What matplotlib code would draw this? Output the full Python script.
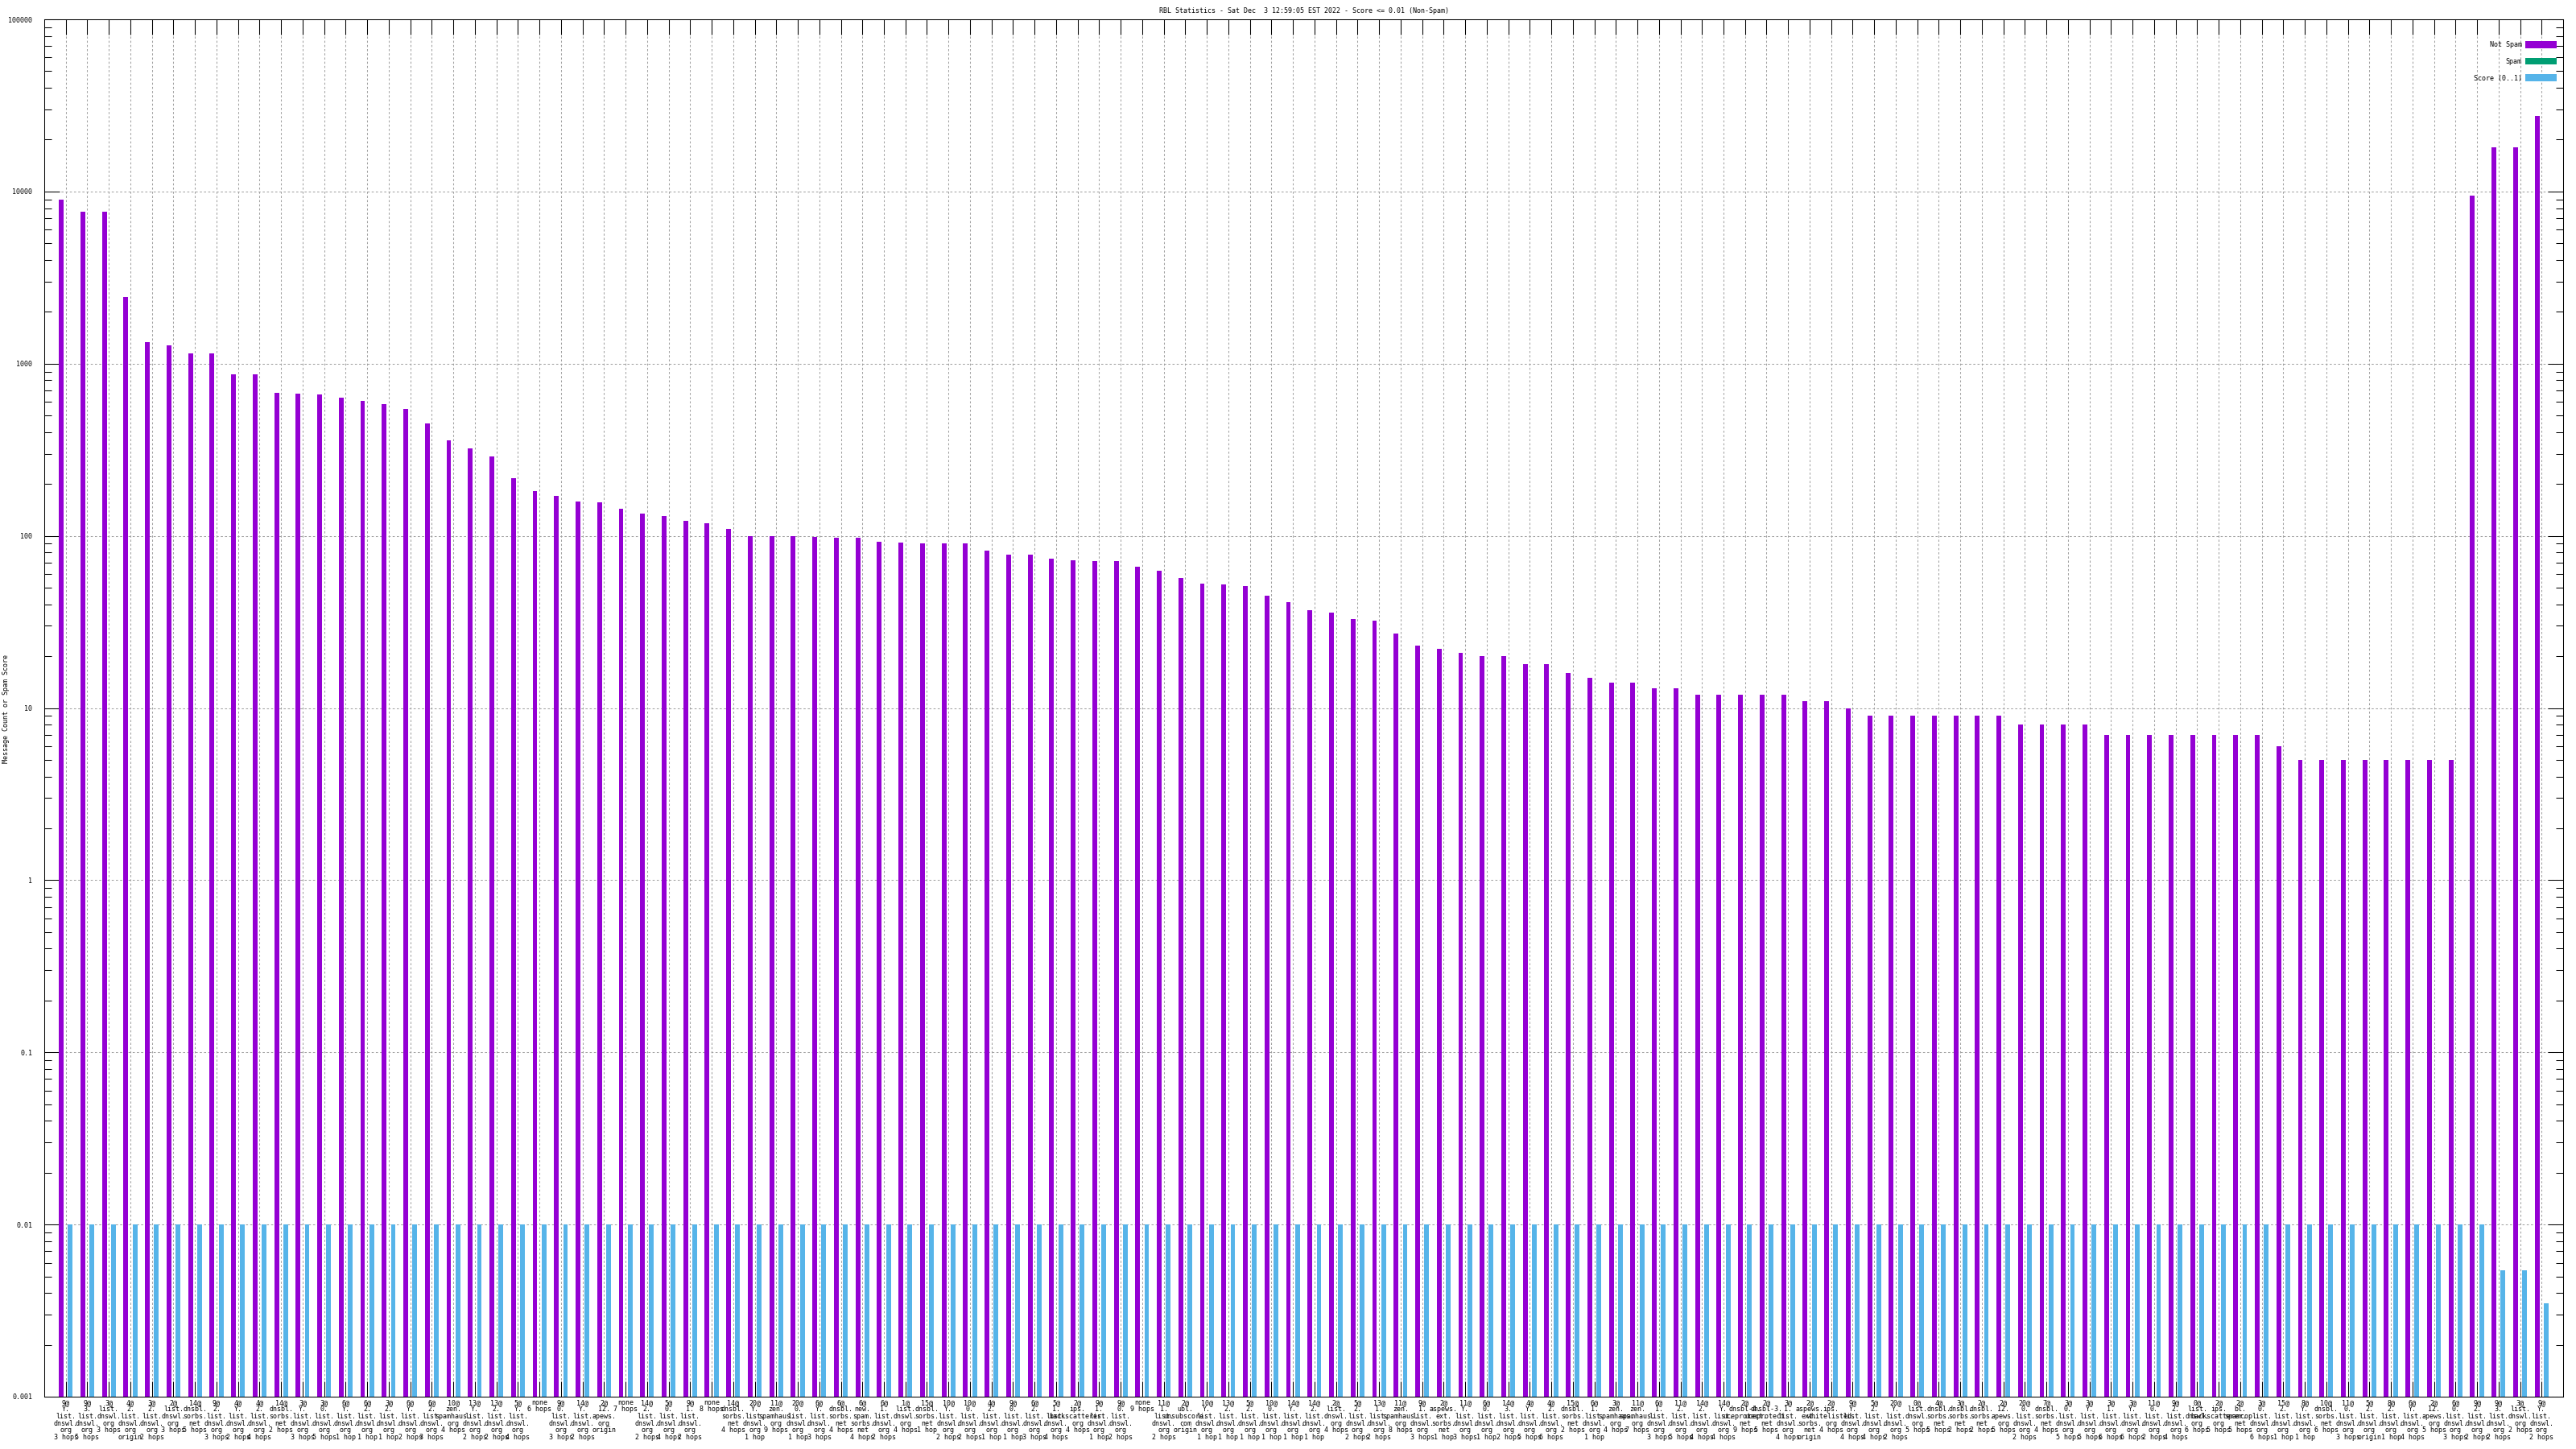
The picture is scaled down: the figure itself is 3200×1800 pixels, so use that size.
import numpy as np
import matplotlib
matplotlib.use("Agg")
import matplotlib.pyplot as plt
from matplotlib.ticker import LogLocator, NullFormatter

plt.rcParams["font.family"] = ["DejaVu Sans Mono"]

title = "RBL Statistics - Sat Dec  3 12:59:05 EST 2022 - Score <= 0.01 (Non-Spam)"

# x labels (hop / rbl), one per group
labels = [
    "9@\nY.\nlist.\ndnswl.\norg\n3 hops", "9@\n3.\nlist.\ndnswl.\norg\n5 hops",
    "3@\nlist.\ndnswl.\norg\n3 hops", "4@\n2.\nlist.\ndnswl.\norg\norigin",
    "3@\n2.\nlist.\ndnswl.\norg\n2 hops", "2@\nlist.\ndnswl.\norg\n3 hops",
    "14@\ndnsbl.\nsorbs.\nnet\n5 hops", "9@\n2.\nlist.\ndnswl.\norg\n3 hops",
    "4@\nY.\nlist.\ndnswl.\norg\n2 hops", "4@\n2.\nlist.\ndnswl.\norg\n4 hops",
    "14@\ndnsbl.\nsorbs.\nnet\n2 hops", "3@\nY.\nlist.\ndnswl.\norg\n3 hops",
    "3@\n0.\nlist.\ndnswl.\norg\n5 hops", "6@\nY.\nlist.\ndnswl.\norg\n1 hop",
    "6@\n2.\nlist.\ndnswl.\norg\n1 hop", "3@\n2.\nlist.\ndnswl.\norg\n1 hop",
    "6@\nY.\nlist.\ndnswl.\norg\n2 hops", "6@\n2.\nlist.\ndnswl.\norg\n3 hops",
    "10@\nzen.\nspamhaus.\norg\n4 hops", "13@\nY.\nlist.\ndnswl.\norg\n2 hops",
    "13@\n2.\nlist.\ndnswl.\norg\n2 hops", "5@\nY.\nlist.\ndnswl.\norg\n4 hops",
    "none\n6 hops", "9@\n0.\nlist.\ndnswl.\norg\n3 hops",
    "14@\nY.\nlist.\ndnswl.\norg\n2 hops", "2@\n12.\napews.\norg\norigin",
    "none\n7 hops", "14@\n2.\nlist.\ndnswl.\norg\n2 hops",
    "5@\n0.\nlist.\ndnswl.\norg\n4 hops", "9@\n1.\nlist.\ndnswl.\norg\n2 hops",
    "none\n8 hops", "14@\ndnsbl.\nsorbs.\nnet\n4 hops",
    "20@\nY.\nlist.\ndnswl.\norg\n1 hop", "11@\nzen.\nspamhaus.\norg\n9 hops",
    "20@\n0.\nlist.\ndnswl.\norg\n1 hop", "6@\nY.\nlist.\ndnswl.\norg\n3 hops",
    "6@\ndnsbl.\nsorbs.\nnet\n4 hops", "6@\nnew.\nspam.\nsorbs.\nnet\n4 hops",
    "6@\n1.\nlist.\ndnswl.\norg\n2 hops", "1@\nlist.\ndnswl.\norg\n4 hops",
    "15@\ndnsbl.\nsorbs.\nnet\n1 hop", "10@\nY.\nlist.\ndnswl.\norg\n2 hops",
    "10@\n0.\nlist.\ndnswl.\norg\n2 hops", "4@\n2.\nlist.\ndnswl.\norg\n1 hop",
    "9@\n0.\nlist.\ndnswl.\norg\n1 hop", "6@\n2.\nlist.\ndnswl.\norg\n3 hops",
    "5@\n1.\nlist.\ndnswl.\norg\n4 hops", "2@\nips.\nbackscatterer.\norg\n4 hops",
    "9@\n1.\nlist.\ndnswl.\norg\n1 hop", "9@\n0.\nlist.\ndnswl.\norg\n2 hops",
    "none\n9 hops", "11@\n1.\nlist.\ndnswl.\norg\n2 hops",
    "2@\nubl.\nunsubscore.\ncom\norigin", "10@\nY.\nlist.\ndnswl.\norg\n1 hop",
    "13@\n2.\nlist.\ndnswl.\norg\n1 hop", "5@\n2.\nlist.\ndnswl.\norg\n1 hop",
    "10@\n0.\nlist.\ndnswl.\norg\n1 hop", "14@\nY.\nlist.\ndnswl.\norg\n1 hop",
    "14@\n2.\nlist.\ndnswl.\norg\n1 hop", "2@\nlist.\ndnswl.\norg\n4 hops",
    "5@\n2.\nlist.\ndnswl.\norg\n2 hops", "13@\n1.\nlist.\ndnswl.\norg\n2 hops",
    "11@\nzen.\nspamhaus.\norg\n8 hops", "9@\n1.\nlist.\ndnswl.\norg\n3 hops",
    "2@\naspews.\next.\nsorbs.\nnet\n1 hop", "11@\nY.\nlist.\ndnswl.\norg\n3 hops",
    "6@\n0.\nlist.\ndnswl.\norg\n1 hop", "14@\n3.\nlist.\ndnswl.\norg\n2 hops",
    "4@\nY.\nlist.\ndnswl.\norg\n5 hops", "4@\n2.\nlist.\ndnswl.\norg\n6 hops",
    "15@\ndnsbl.\nsorbs.\nnet\n2 hops", "6@\n1.\nlist.\ndnswl.\norg\n1 hop",
    "3@\nzen.\nspamhaus.\norg\n4 hops", "11@\nzen.\nspamhaus.\norg\n7 hops",
    "6@\n1.\nlist.\ndnswl.\norg\n3 hops", "11@\n2.\nlist.\ndnswl.\norg\n5 hops",
    "14@\n2.\nlist.\ndnswl.\norg\n4 hops", "14@\nY.\nlist.\ndnswl.\norg\n4 hops",
    "2@\ndnsbl-4.\nuceprotect.\nnet\n9 hops", "2@\ndnsbl-3.\nuceprotect.\nnet\n5 hops",
    "3@\n1.\nlist.\ndnswl.\norg\n4 hops", "2@\naspews.\next.\nsorbs.\nnet\norigin",
    "2@\nips.\nwhitelisted.\norg\n4 hops", "9@\nY.\nlist.\ndnswl.\norg\n4 hops",
    "5@\n2.\nlist.\ndnswl.\norg\n4 hops", "20@\nY.\nlist.\ndnswl.\norg\n2 hops",
    "0@\nlist.\ndnswl.\norg\n5 hops", "4@\ndnsbl.\nsorbs.\nnet\n5 hops",
    "3@\ndnsbl.\nsorbs.\nnet\n2 hops", "2@\ndnsbl.\nsorbs.\nnet\n2 hops",
    "2@\n12.\napews.\norg\n5 hops", "20@\n0.\nlist.\ndnswl.\norg\n2 hops",
    "7@\ndnsbl.\nsorbs.\nnet\n4 hops", "3@\n0.\nlist.\ndnswl.\norg\n5 hops",
    "3@\nY.\nlist.\ndnswl.\norg\n5 hops", "3@\n1.\nlist.\ndnswl.\norg\n6 hops",
    "3@\nY.\nlist.\ndnswl.\norg\n6 hops", "11@\n0.\nlist.\ndnswl.\norg\n2 hops",
    "9@\n2.\nlist.\ndnswl.\norg\n4 hops", "0@\nlist.\ndnswl.\norg\n6 hops",
    "2@\nips.\nbackscatterer.\norg\n5 hops", "2@\nbl.\nspamcop.\nnet\n5 hops",
    "3@\n0.\nlist.\ndnswl.\norg\n6 hops", "15@\n2.\nlist.\ndnswl.\norg\n1 hop",
    "8@\nY.\nlist.\ndnswl.\norg\n1 hop", "10@\ndnsbl.\nsorbs.\nnet\n6 hops",
    "11@\n0.\nlist.\ndnswl.\norg\n3 hops", "5@\n2.\nlist.\ndnswl.\norg\norigin",
    "8@\n2.\nlist.\ndnswl.\norg\n1 hop", "6@\nY.\nlist.\ndnswl.\norg\n4 hops",
    "2@\n12.\napews.\norg\n5 hops", "6@\n0.\nlist.\ndnswl.\norg\n3 hops",
    "9@\n2.\nlist.\ndnswl.\norg\n2 hops", "9@\n3.\nlist.\ndnswl.\norg\n2 hops",
    "3@\nlist.\ndnswl.\norg\n2 hops", "9@\nY.\nlist.\ndnswl.\norg\n2 hops",
]

# message counts
not_spam = [
    9000, 7600, 7600, 2430, 1340, 1280, 1150, 1150, 865, 865,
    680, 670, 660, 636, 605, 582, 546, 448, 359, 322,
    288, 217, 182, 170, 159, 156, 143, 134, 130, 122,
    118, 110, 100, 100, 100, 99, 97, 97, 92, 91,
    90, 90, 90, 82, 78, 78, 74, 72, 71, 71,
    66, 63, 57, 53, 52, 51, 45, 41, 37, 36,
    33, 32, 27, 23, 22, 21, 20, 20, 18, 18,
    16, 15, 14, 14, 13, 13, 12, 12, 12, 12,
    12, 11, 11, 10, 9, 9, 9, 9, 9, 9,
    9, 8, 8, 8, 8, 7, 7, 7, 7, 7,
    7, 7, 7, 6, 5, 5, 5, 5, 5, 5,
    5, 5, 9500, 18000, 18000, 27600,
]

spam = [
    0, 0, 0, 0, 0, 0, 0, 0, 0, 0, 0, 0, 0, 0, 0, 0, 0, 0, 0, 0,
    0, 0, 0, 0, 0, 0, 0, 0, 0, 0, 0, 0, 0, 0, 0, 0, 0, 0, 0, 0,
    0, 0, 0, 0, 0, 0, 0, 0, 0, 0, 0, 0, 0, 0, 0, 0, 0, 0, 0, 0,
    0, 0, 0, 0, 0, 0, 0, 0, 0, 0, 0, 0, 0, 0, 0, 0, 0, 0, 0, 0,
    0, 0, 0, 0, 0, 0, 0, 0, 0, 0, 0, 0, 0, 0, 0, 0, 0, 0, 0, 0,
    0, 0, 0, 0, 0, 0, 0, 0, 0, 0, 0, 0, 0, 0, 0, 0,
]

score = [
    0.01, 0.01, 0.01, 0.01, 0.01, 0.01, 0.01, 0.01, 0.01, 0.01,
    0.01, 0.01, 0.01, 0.01, 0.01, 0.01, 0.01, 0.01, 0.01, 0.01,
    0.01, 0.01, 0.01, 0.01, 0.01, 0.01, 0.01, 0.01, 0.01, 0.01,
    0.01, 0.01, 0.01, 0.01, 0.01, 0.01, 0.01, 0.01, 0.01, 0.01,
    0.01, 0.01, 0.01, 0.01, 0.01, 0.01, 0.01, 0.01, 0.01, 0.01,
    0.01, 0.01, 0.01, 0.01, 0.01, 0.01, 0.01, 0.01, 0.01, 0.01,
    0.01, 0.01, 0.01, 0.01, 0.01, 0.01, 0.01, 0.01, 0.01, 0.01,
    0.01, 0.01, 0.01, 0.01, 0.01, 0.01, 0.01, 0.01, 0.01, 0.01,
    0.01, 0.01, 0.01, 0.01, 0.01, 0.01, 0.01, 0.01, 0.01, 0.01,
    0.01, 0.01, 0.01, 0.01, 0.01, 0.01, 0.01, 0.01, 0.01, 0.01,
    0.01, 0.01, 0.01, 0.01, 0.01, 0.01, 0.01, 0.01, 0.01, 0.01,
    0.01, 0.01, 0.01, 0.0054, 0.0054, 0.0035,
]

ytick_vals = [0.001, 0.01, 0.1, 1, 10, 100, 1000, 10000, 100000]
ytick_text = ["0.001", "0.01", "0.1", "1", "10", "100", "1000", "10000", "100000"]

W, H = 3200, 1800
fig = plt.figure(figsize=(32, 18), dpi=100)
ax = fig.add_axes([55 / W, 1 - 1735 / H, (3184 - 55) / W, (1735 - 24) / H])
ax.set_yscale("log")

x = np.arange(len(labels))
bw = 0.22
ax.bar(x - 0.21, not_spam, bw, color="#9400d3", label="Not Spam", zorder=2)
ax.bar(x, spam, bw, color="#009e73", label="Spam", zorder=2)
ax.bar(x + 0.21, score, bw, color="#56b4e9", label="Score (0..1)", zorder=2)

ax.set_ylim(0.001, 100000)
ax.set_xlim(-1, len(labels))

ax.set_xticks(x)
ax.set_xticklabels(labels, fontsize=6, linespacing=0.95)
ax.set_yticks(ytick_vals)
ax.set_yticklabels(ytick_text, fontsize=6)
ax.yaxis.set_minor_locator(LogLocator(base=10, subs=range(2, 10), numticks=20))
ax.yaxis.set_minor_formatter(NullFormatter())

ax.tick_params(axis="x", which="major", direction="in", length=13.5, width=0.75,
               top=True, pad=2)
ax.tick_params(axis="x", which="minor", bottom=False, top=False)
ax.tick_params(axis="y", which="major", direction="in", length=13.5, width=0.75,
               right=True, pad=10.5)
ax.tick_params(axis="y", which="minor", direction="in", length=6.5, width=0.75,
               right=True)

ax.grid(True, which="major", color="#a0a0a0", linestyle=(0, (2.5, 2.5)), linewidth=0.75)
ax.set_axisbelow(True)
for sp in ax.spines.values():
    sp.set_linewidth(0.75)

fig.text(1620 / W, 1 - 14 / H, title, ha="center", va="center", fontsize=6)
fig.text(8 / W, 1 - 880 / H, "Message Count or Spam Score", rotation=90,
         ha="center", va="center", fontsize=6)

ax.legend(loc="upper right", bbox_to_anchor=(3176 / W, 1 - 51 / H),
          bbox_transform=fig.transFigure, frameon=False, markerfirst=False,
          prop={"size": 6}, handlelength=4.7, handleheight=1.2,
          handletextpad=0.5, labelspacing=1.4, borderpad=0, borderaxespad=0)

fig.savefig("out.png", dpi=100)
